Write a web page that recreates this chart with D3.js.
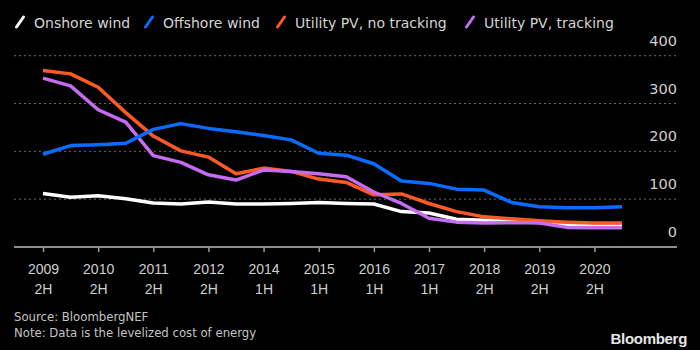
<!DOCTYPE html>
<html>
<head>
<meta charset="utf-8">
<script src="https://cdnjs.cloudflare.com/ajax/libs/d3/7.8.5/d3.min.js"></script>
<style>
  html, body { margin: 0; padding: 0; background: #000; }
  svg { display: block; font-family: "DejaVu Sans", sans-serif; }
</style>
</head>
<body>
<svg></svg>
<script>
//half-year periods on the x axis (one point each)
var periods = ["2009 2H", "2010 1H", "2010 2H", "2011 1H", "2011 2H", "2012 1H", "2012 2H",
    "2013 1H", "2014 1H", "2014 2H", "2015 1H", "2015 2H", "2016 1H", "2016 2H", "2017 1H",
    "2017 2H", "2018 2H", "2019 1H", "2019 2H", "2020 1H", "2020 2H", "2021 1H"];

//levelized cost of energy per technology
var onshoreWind = [112, 104, 107, 101, 92, 90, 94, 90, 90, 91, 93, 91, 90, 74, 71, 58, 56, 54, 51, 46, 44, 44];
var offshoreWind = [194, 212, 214, 217, 246, 258, 248, 241, 233, 224, 196, 192, 174, 138, 133, 121, 119, 93, 84, 82, 82, 84];
var pvNoTracking = [369, 362, 334, 281, 232, 201, 188, 153, 165, 158, 142, 135, 109, 111, 91, 74, 63, 59, 55, 52, 50, 50];
var pvTracking = [353, 337, 287, 261, 191, 177, 151, 140, 161, 158, 153, 147, 115, 91, 60, 52, 50, 51, 50, 41, 40, 40];

//labelled ticks: every second period
var tickPeriods = ["2009 2H", "2010 2H", "2011 2H", "2012 2H", "2014 1H", "2015 1H",
    "2016 1H", "2017 1H", "2018 2H", "2019 2H", "2020 2H"];
var yTicks = [0, 100, 200, 300, 400];

var seriesNames = ["Onshore wind", "Offshore wind", "Utility PV, no tracking", "Utility PV, tracking"];
var seriesColors = ["#ffffff", "#0a6cff", "#ff5a26", "#c66bf2"];
var seriesValues = [onshoreWind, offshoreWind, pvNoTracking, pvTracking];

document.addEventListener("DOMContentLoaded", function() {
    drawChart();
});

function drawChart() {
    var svgWidth = 700, svgHeight = 350;
    var svg = d3.select("svg")
        .attr("width", svgWidth)
        .attr("height", svgHeight);

    svg.append("rect")
        .attr("width", svgWidth)
        .attr("height", svgHeight)
        .attr("fill", "#000");

    //plot area edges
    var left = 14, right = 677, top = 55.7, bottom = 247;

    var x = d3.scalePoint()
        .domain(periods)
        .range([43, 622]);

    var y = d3.scaleLinear()
        .domain([0, 400])
        .range([bottom, top]);

    //dotted gridlines
    svg.append("g")
        .selectAll("line")
        .data(yTicks.filter(function(d) { return d > 0; }))
        .enter().append("line")
        .attr("x1", left)
        .attr("x2", right)
        .attr("y1", function(d) { return y(d); })
        .attr("y2", function(d) { return y(d); })
        .attr("stroke", "#6a6a6a")
        .attr("stroke-width", 1)
        .attr("stroke-dasharray", "2,3");

    //y labels sit above their gridline, right aligned
    svg.append("g")
        .selectAll("text")
        .data(yTicks)
        .enter().append("text")
        .attr("x", right)
        .attr("y", function(d) { return y(d) - 10; })
        .attr("text-anchor", "end")
        .attr("fill", "#cfcfcf")
        .attr("font-size", "14.5px")
        .text(function(d) { return d; });

    //x axis line
    svg.append("line")
        .attr("x1", left)
        .attr("x2", right)
        .attr("y1", bottom)
        .attr("y2", bottom)
        .attr("stroke", "#8c8c8c")
        .attr("stroke-width", 2);

    //x axis ticks and two-line labels
    var xAxis = d3.axisBottom(x)
        .tickValues(tickPeriods)
        .tickSize(5)
        .tickSizeOuter(0)
        .tickFormat("");

    var gx = svg.append("g")
        .attr("transform", "translate(0," + bottom + ")")
        .call(xAxis);
    gx.select(".domain").remove();
    gx.selectAll(".tick line")
        .attr("stroke", "#9a9a9a")
        .attr("stroke-width", 1.5);

    var labels = gx.selectAll(".tick")
        .append("text")
        .attr("fill", "#cfcfcf")
        .attr("font-size", "14px")
        .attr("text-anchor", "middle");
    labels.append("tspan")
        .attr("x", 0)
        .attr("y", 27)
        .text(function(d) { return d.split(" ")[0]; });
    labels.append("tspan")
        .attr("x", 0)
        .attr("y", 47)
        .text(function(d) { return d.split(" ")[1]; });

    //the lines
    var line = d3.line()
        .x(function(d, i) { return x(periods[i]); })
        .y(function(d) { return y(d); });

    var drawOrder = [0, 2, 3, 1];
    drawOrder.forEach(function(k) {
        svg.append("path")
            .datum(seriesValues[k])
            .attr("fill", "none")
            .attr("stroke", seriesColors[k])
            .attr("stroke-width", 3.5)
            .attr("stroke-linejoin", "round")
            .attr("d", line);
    });

    //legend with slash markers
    var legendX = [15, 144, 276, 465];
    var legend = svg.append("g")
        .selectAll("g")
        .data(seriesNames)
        .enter().append("g")
        .attr("transform", function(d, i) { return "translate(" + legendX[i] + ",0)"; });
    legend.append("line")
        .attr("x1", 1.5)
        .attr("y1", 27)
        .attr("x2", 8.5)
        .attr("y2", 17)
        .attr("stroke", function(d, i) { return seriesColors[i]; })
        .attr("stroke-width", 3)
        .attr("stroke-linecap", "round");
    legend.append("text")
        .attr("x", 19)
        .attr("y", 27.5)
        .attr("fill", "#d4d4d4")
        .attr("font-size", "14px")
        .text(function(d) { return d; });

    //footer
    svg.append("text")
        .attr("x", 14)
        .attr("y", 321)
        .attr("fill", "#c4c4c4")
        .attr("font-size", "13px")
        .attr("font-stretch", "condensed")
        .text("Source: BloombergNEF");
    svg.append("text")
        .attr("x", 14)
        .attr("y", 337)
        .attr("fill", "#c4c4c4")
        .attr("font-size", "13px")
        .attr("font-stretch", "condensed")
        .text("Note: Data is the levelized cost of energy");

    svg.append("text")
        .attr("x", 687)
        .attr("y", 344)
        .attr("text-anchor", "end")
        .attr("fill", "#e6e6e6")
        .attr("font-family", "'Liberation Sans', Arial, sans-serif")
        .attr("font-weight", "bold")
        .attr("font-size", "15px")
        .attr("letter-spacing", "-0.3px")
        .text("Bloomberg");
}
</script>
</body>
</html>
